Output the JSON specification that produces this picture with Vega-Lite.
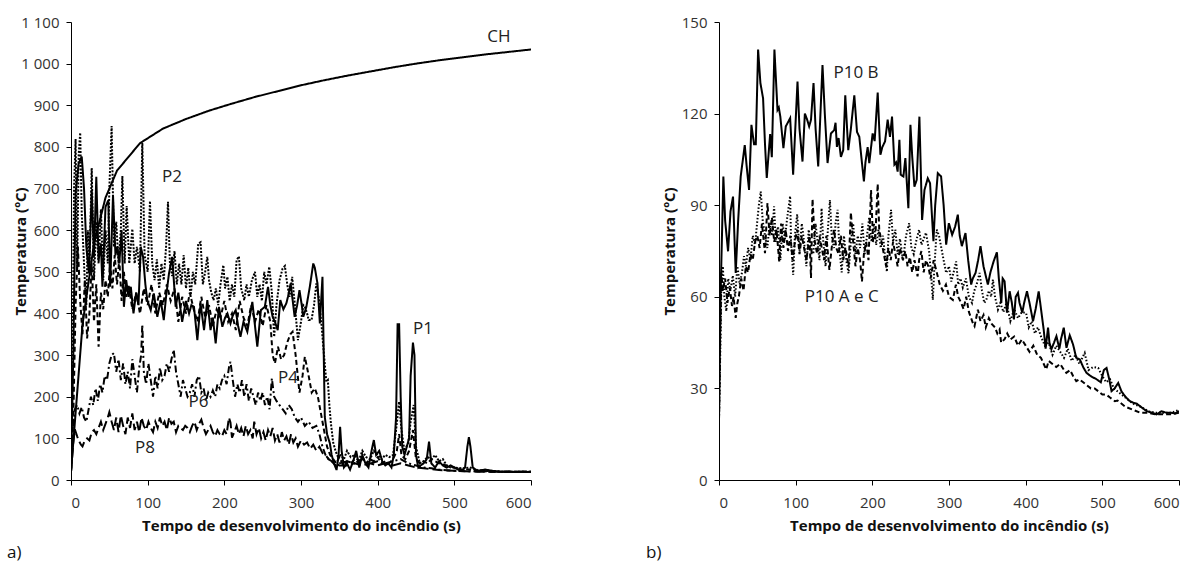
{
"$schema": "https://vega.github.io/schema/vega-lite/v6.json",
"background": "white",
"padding": {"left": 7, "top": 15, "right": 5, "bottom": 5},
"bounds": "flush",
"spacing": 188,
"resolve": {"scale": {"strokeDash": "independent"}},
"config": {
  "view": {"stroke": null},
  "font": "Open Sans",
  "axis": {"grid": false, "domainColor": "#000", "tickColor": "#000", "labelColor": "#333", "titleColor": "#111", "labelFontSize": 15, "titleFontSize": 15, "titleFontWeight": "bold", "tickSize": 5, "labelFont": "Open Sans", "titleFont": "Open Sans"},
  "title": {"font": "Open Sans", "fontSize": 17, "fontWeight": "normal", "color": "#111"}
},
"datasets": {
"la": [
{"t":558,"v":1064,"label":"CH"},{"t":131.7,"v":728,"label":"P2"},{"t":459,"v":363,"label":"P1"},{"t":283,"v":245,"label":"P4"},{"t":166.3,"v":187,"label":"P6"},{"t":96.5,"v":77,"label":"P8"}
],
"lb": [
{"t":178.7,"v":133.2,"label":"P10 B"},{"t":160.1,"v":59.8,"label":"P10 A e C"}
],
"a": [
{"s":"CH","t":0,"v":20},{"s":"CH","t":15,"v":373},{"s":"CH","t":30,"v":568},{"s":"CH","t":45,"v":678},{"s":"CH","t":60,"v":743},{"s":"CH","t":90,"v":809},{"s":"CH","t":120,"v":844},{"s":"CH","t":150,"v":867},{"s":"CH","t":180,"v":887},{"s":"CH","t":210,"v":904},{"s":"CH","t":240,"v":920},{"s":"CH","t":270,"v":934},{"s":"CH","t":300,"v":948},{"s":"CH","t":330,"v":960},{"s":"CH","t":360,"v":971},{"s":"CH","t":390,"v":981},{"s":"CH","t":420,"v":991},{"s":"CH","t":450,"v":1000},{"s":"CH","t":480,"v":1008},{"s":"CH","t":510,"v":1015},{"s":"CH","t":540,"v":1022},{"s":"CH","t":570,"v":1028},{"s":"CH","t":600,"v":1034},

{"s":"P1","t":0,"v":20},{"s":"P1","t":3,"v":300},{"s":"P1","t":6,"v":689},{"s":"P1","t":10,"v":760},{"s":"P1","t":14,"v":777},{"s":"P1","t":17,"v":700},{"s":"P1","t":20,"v":560},{"s":"P1","t":23.5,"v":496},{"s":"P1","t":27,"v":696},{"s":"P1","t":30,"v":536},{"s":"P1","t":33,"v":728},{"s":"P1","t":36,"v":528},{"s":"P1","t":39,"v":568},{"s":"P1","t":41,"v":464},{"s":"P1","t":45,"v":656},{"s":"P1","t":48.7,"v":672},{"s":"P1","t":51,"v":464},{"s":"P1","t":54.8,"v":684},{"s":"P1","t":58,"v":540},{"s":"P1","t":60.4,"v":560},{"s":"P1","t":63,"v":520},{"s":"P1","t":66,"v":600},{"s":"P1","t":69,"v":416},{"s":"P1","t":72,"v":480},{"s":"P1","t":75,"v":440},{"s":"P1","t":78,"v":464},{"s":"P1","t":81.5,"v":400},{"s":"P1","t":85,"v":450},{"s":"P1","t":88,"v":420},{"s":"P1","t":91,"v":560},{"s":"P1","t":94,"v":536},{"s":"P1","t":97,"v":470},{"s":"P1","t":99.5,"v":432},{"s":"P1","t":104,"v":408},{"s":"P1","t":108,"v":448},{"s":"P1","t":112.6,"v":392},{"s":"P1","t":117,"v":432},{"s":"P1","t":121,"v":384},{"s":"P1","t":124,"v":440},{"s":"P1","t":127.8,"v":496},{"s":"P1","t":132,"v":536},{"s":"P1","t":136.5,"v":416},{"s":"P1","t":140,"v":450},{"s":"P1","t":145,"v":380},{"s":"P1","t":150,"v":430},{"s":"P1","t":154,"v":400},{"s":"P1","t":157,"v":420},{"s":"P1","t":160.4,"v":416},{"s":"P1","t":164.8,"v":336},{"s":"P1","t":169,"v":424},{"s":"P1","t":173.5,"v":360},{"s":"P1","t":177.8,"v":432},{"s":"P1","t":182,"v":360},{"s":"P1","t":185,"v":390},{"s":"P1","t":188.7,"v":328},{"s":"P1","t":193,"v":416},{"s":"P1","t":197.4,"v":368},{"s":"P1","t":201,"v":390},{"s":"P1","t":204,"v":400},{"s":"P1","t":208,"v":376},{"s":"P1","t":211,"v":395},{"s":"P1","t":214.8,"v":408},{"s":"P1","t":218,"v":370},{"s":"P1","t":221,"v":344},{"s":"P1","t":225,"v":380},{"s":"P1","t":230,"v":356},{"s":"P1","t":233,"v":390},{"s":"P1","t":236.5,"v":428},{"s":"P1","t":240,"v":370},{"s":"P1","t":243,"v":320},{"s":"P1","t":247.7,"v":408},{"s":"P1","t":252.8,"v":416},{"s":"P1","t":257,"v":464},{"s":"P1","t":260,"v":420},{"s":"P1","t":263,"v":392},{"s":"P1","t":266,"v":380},{"s":"P1","t":269.6,"v":360},{"s":"P1","t":273,"v":432},{"s":"P1","t":277,"v":410},{"s":"P1","t":280.8,"v":424},{"s":"P1","t":283,"v":440},{"s":"P1","t":286.5,"v":472},{"s":"P1","t":291.7,"v":392},{"s":"P1","t":295,"v":420},{"s":"P1","t":298,"v":456},{"s":"P1","t":301,"v":420},{"s":"P1","t":303,"v":392},{"s":"P1","t":307,"v":416},{"s":"P1","t":311.5,"v":464},{"s":"P1","t":316,"v":520},{"s":"P1","t":318,"v":510},{"s":"P1","t":321.5,"v":472},{"s":"P1","t":324.6,"v":376},{"s":"P1","t":328,"v":488},{"s":"P1","t":331,"v":152},{"s":"P1","t":334,"v":110},{"s":"P1","t":337.7,"v":88},{"s":"P1","t":340,"v":60},{"s":"P1","t":343,"v":40},{"s":"P1","t":346.4,"v":24},{"s":"P1","t":349,"v":60},{"s":"P1","t":351,"v":128},{"s":"P1","t":353,"v":70},{"s":"P1","t":356,"v":30},{"s":"P1","t":360,"v":40},{"s":"P1","t":364,"v":25},{"s":"P1","t":368,"v":45},{"s":"P1","t":372,"v":70},{"s":"P1","t":376,"v":30},{"s":"P1","t":380,"v":60},{"s":"P1","t":384,"v":40},{"s":"P1","t":388,"v":30},{"s":"P1","t":392,"v":70},{"s":"P1","t":395,"v":96},{"s":"P1","t":398,"v":60},{"s":"P1","t":402,"v":70},{"s":"P1","t":406,"v":45},{"s":"P1","t":410,"v":35},{"s":"P1","t":414,"v":40},{"s":"P1","t":418,"v":30},{"s":"P1","t":421,"v":60},{"s":"P1","t":424,"v":150},{"s":"P1","t":426,"v":374},{"s":"P1","t":428,"v":374},{"s":"P1","t":430,"v":200},{"s":"P1","t":432,"v":80},{"s":"P1","t":435,"v":60},{"s":"P1","t":438,"v":80},{"s":"P1","t":441,"v":100},{"s":"P1","t":443,"v":250},{"s":"P1","t":446,"v":330},{"s":"P1","t":448,"v":300},{"s":"P1","t":450,"v":60},{"s":"P1","t":453,"v":30},{"s":"P1","t":456,"v":35},{"s":"P1","t":460,"v":40},{"s":"P1","t":464,"v":50},{"s":"P1","t":467,"v":92},{"s":"P1","t":470,"v":40},{"s":"P1","t":475,"v":30},{"s":"P1","t":480,"v":45},{"s":"P1","t":485,"v":35},{"s":"P1","t":490,"v":30},{"s":"P1","t":495,"v":35},{"s":"P1","t":500,"v":30},{"s":"P1","t":505,"v":25},{"s":"P1","t":510,"v":22},{"s":"P1","t":514,"v":30},{"s":"P1","t":517,"v":80},{"s":"P1","t":519,"v":103},{"s":"P1","t":521,"v":80},{"s":"P1","t":524,"v":30},{"s":"P1","t":530,"v":22},{"s":"P1","t":540,"v":25},{"s":"P1","t":550,"v":22},{"s":"P1","t":560,"v":20},{"s":"P1","t":570,"v":20},{"s":"P1","t":580,"v":19},{"s":"P1","t":590,"v":19},{"s":"P1","t":600,"v":19},

{"s":"P2","t":0,"v":20},{"s":"P2","t":2,"v":300},{"s":"P2","t":4,"v":700},{"s":"P2","t":6,"v":819},{"s":"P2","t":8,"v":500},{"s":"P2","t":10,"v":780},{"s":"P2","t":12,"v":834},{"s":"P2","t":14,"v":640},{"s":"P2","t":16,"v":560},{"s":"P2","t":18,"v":480},{"s":"P2","t":20,"v":420},{"s":"P2","t":22,"v":600},{"s":"P2","t":24,"v":500},{"s":"P2","t":27,"v":749},{"s":"P2","t":30,"v":480},{"s":"P2","t":33,"v":620},{"s":"P2","t":36,"v":520},{"s":"P2","t":39,"v":650},{"s":"P2","t":42,"v":480},{"s":"P2","t":45,"v":600},{"s":"P2","t":48,"v":520},{"s":"P2","t":50,"v":700},{"s":"P2","t":53,"v":850},{"s":"P2","t":56,"v":560},{"s":"P2","t":59,"v":620},{"s":"P2","t":62,"v":520},{"s":"P2","t":65,"v":600},{"s":"P2","t":67,"v":730},{"s":"P2","t":70,"v":520},{"s":"P2","t":72.6,"v":658},{"s":"P2","t":76,"v":520},{"s":"P2","t":80,"v":603},{"s":"P2","t":83,"v":520},{"s":"P2","t":86,"v":560},{"s":"P2","t":90,"v":500},{"s":"P2","t":93,"v":810},{"s":"P2","t":96,"v":540},{"s":"P2","t":100,"v":500},{"s":"P2","t":103,"v":670},{"s":"P2","t":106,"v":520},{"s":"P2","t":109,"v":480},{"s":"P2","t":112,"v":530},{"s":"P2","t":115,"v":460},{"s":"P2","t":118,"v":520},{"s":"P2","t":121,"v":480},{"s":"P2","t":124,"v":560},{"s":"P2","t":126.5,"v":668},{"s":"P2","t":129,"v":520},{"s":"P2","t":132,"v":490},{"s":"P2","t":135,"v":550},{"s":"P2","t":138,"v":470},{"s":"P2","t":141,"v":520},{"s":"P2","t":144,"v":470},{"s":"P2","t":147,"v":540},{"s":"P2","t":150,"v":460},{"s":"P2","t":153,"v":510},{"s":"P2","t":156,"v":440},{"s":"P2","t":159,"v":500},{"s":"P2","t":162,"v":470},{"s":"P2","t":166,"v":568},{"s":"P2","t":169,"v":571},{"s":"P2","t":172,"v":470},{"s":"P2","t":175,"v":500},{"s":"P2","t":177.8,"v":536},{"s":"P2","t":180,"v":480},{"s":"P2","t":183,"v":450},{"s":"P2","t":186,"v":432},{"s":"P2","t":189,"v":460},{"s":"P2","t":192,"v":420},{"s":"P2","t":195,"v":470},{"s":"P2","t":198.7,"v":516},{"s":"P2","t":201,"v":460},{"s":"P2","t":204,"v":488},{"s":"P2","t":207,"v":430},{"s":"P2","t":210,"v":470},{"s":"P2","t":213,"v":440},{"s":"P2","t":216,"v":528},{"s":"P2","t":219,"v":537},{"s":"P2","t":222,"v":460},{"s":"P2","t":226,"v":432},{"s":"P2","t":229,"v":470},{"s":"P2","t":232,"v":440},{"s":"P2","t":236,"v":480},{"s":"P2","t":240,"v":500},{"s":"P2","t":243,"v":440},{"s":"P2","t":246,"v":470},{"s":"P2","t":249,"v":430},{"s":"P2","t":252,"v":500},{"s":"P2","t":255,"v":470},{"s":"P2","t":258.6,"v":512},{"s":"P2","t":262,"v":450},{"s":"P2","t":265,"v":344},{"s":"P2","t":268,"v":420},{"s":"P2","t":272,"v":480},{"s":"P2","t":276,"v":508},{"s":"P2","t":279,"v":514},{"s":"P2","t":282,"v":470},{"s":"P2","t":285,"v":440},{"s":"P2","t":288.5,"v":488},{"s":"P2","t":292,"v":420},{"s":"P2","t":296,"v":336},{"s":"P2","t":300,"v":380},{"s":"P2","t":303,"v":420},{"s":"P2","t":305,"v":416},{"s":"P2","t":308,"v":400},{"s":"P2","t":310,"v":384},{"s":"P2","t":313.7,"v":384},{"s":"P2","t":317,"v":420},{"s":"P2","t":320,"v":472},{"s":"P2","t":323,"v":440},{"s":"P2","t":326.6,"v":376},{"s":"P2","t":330,"v":300},{"s":"P2","t":333,"v":236},{"s":"P2","t":335,"v":240},{"s":"P2","t":337,"v":180},{"s":"P2","t":339,"v":136},{"s":"P2","t":342,"v":90},{"s":"P2","t":345,"v":70},{"s":"P2","t":348,"v":56},{"s":"P2","t":352,"v":60},{"s":"P2","t":356,"v":50},{"s":"P2","t":360,"v":70},{"s":"P2","t":365,"v":55},{"s":"P2","t":370,"v":60},{"s":"P2","t":375,"v":45},{"s":"P2","t":380,"v":70},{"s":"P2","t":385,"v":55},{"s":"P2","t":390,"v":50},{"s":"P2","t":395,"v":70},{"s":"P2","t":400,"v":60},{"s":"P2","t":405,"v":50},{"s":"P2","t":410,"v":60},{"s":"P2","t":415,"v":55},{"s":"P2","t":420,"v":60},{"s":"P2","t":424,"v":120},{"s":"P2","t":428,"v":188},{"s":"P2","t":431,"v":120},{"s":"P2","t":435,"v":70},{"s":"P2","t":440,"v":90},{"s":"P2","t":443,"v":140},{"s":"P2","t":447,"v":180},{"s":"P2","t":450,"v":80},{"s":"P2","t":455,"v":40},{"s":"P2","t":460,"v":45},{"s":"P2","t":465,"v":55},{"s":"P2","t":470,"v":50},{"s":"P2","t":475,"v":60},{"s":"P2","t":480,"v":45},{"s":"P2","t":485,"v":50},{"s":"P2","t":490,"v":35},{"s":"P2","t":495,"v":30},{"s":"P2","t":500,"v":30},{"s":"P2","t":510,"v":28},{"s":"P2","t":520,"v":30},{"s":"P2","t":530,"v":24},{"s":"P2","t":540,"v":22},{"s":"P2","t":550,"v":21},{"s":"P2","t":560,"v":20},{"s":"P2","t":580,"v":20},{"s":"P2","t":600,"v":20},

{"s":"P4","t":0,"v":20},{"s":"P4","t":3,"v":150},{"s":"P4","t":6,"v":420},{"s":"P4","t":9,"v":560},{"s":"P4","t":12,"v":430},{"s":"P4","t":15,"v":350},{"s":"P4","t":18,"v":480},{"s":"P4","t":21,"v":340},{"s":"P4","t":24,"v":400},{"s":"P4","t":27,"v":520},{"s":"P4","t":30,"v":380},{"s":"P4","t":33,"v":470},{"s":"P4","t":36,"v":320},{"s":"P4","t":39,"v":450},{"s":"P4","t":42,"v":410},{"s":"P4","t":45,"v":480},{"s":"P4","t":48,"v":440},{"s":"P4","t":51,"v":520},{"s":"P4","t":54,"v":460},{"s":"P4","t":57,"v":540},{"s":"P4","t":60,"v":470},{"s":"P4","t":63,"v":530},{"s":"P4","t":66,"v":430},{"s":"P4","t":69,"v":500},{"s":"P4","t":72,"v":440},{"s":"P4","t":75,"v":470},{"s":"P4","t":80,"v":410},{"s":"P4","t":85,"v":450},{"s":"P4","t":90,"v":400},{"s":"P4","t":95,"v":460},{"s":"P4","t":100,"v":420},{"s":"P4","t":105,"v":470},{"s":"P4","t":110,"v":400},{"s":"P4","t":115,"v":450},{"s":"P4","t":120,"v":420},{"s":"P4","t":125,"v":470},{"s":"P4","t":130,"v":430},{"s":"P4","t":135,"v":460},{"s":"P4","t":140,"v":380},{"s":"P4","t":145,"v":440},{"s":"P4","t":150,"v":400},{"s":"P4","t":155,"v":450},{"s":"P4","t":160,"v":410},{"s":"P4","t":165,"v":380},{"s":"P4","t":170,"v":440},{"s":"P4","t":175,"v":390},{"s":"P4","t":180,"v":420},{"s":"P4","t":185,"v":370},{"s":"P4","t":190,"v":410},{"s":"P4","t":195,"v":390},{"s":"P4","t":200,"v":430},{"s":"P4","t":205,"v":380},{"s":"P4","t":210,"v":400},{"s":"P4","t":215,"v":360},{"s":"P4","t":220,"v":430},{"s":"P4","t":225,"v":390},{"s":"P4","t":230,"v":370},{"s":"P4","t":235,"v":420},{"s":"P4","t":240,"v":380},{"s":"P4","t":245,"v":410},{"s":"P4","t":250,"v":370},{"s":"P4","t":255,"v":420},{"s":"P4","t":260,"v":380},{"s":"P4","t":263,"v":300},{"s":"P4","t":266,"v":280},{"s":"P4","t":270,"v":320},{"s":"P4","t":274,"v":290},{"s":"P4","t":278,"v":300},{"s":"P4","t":282,"v":330},{"s":"P4","t":286,"v":350},{"s":"P4","t":289,"v":356},{"s":"P4","t":293,"v":300},{"s":"P4","t":298,"v":210},{"s":"P4","t":302,"v":250},{"s":"P4","t":305,"v":296},{"s":"P4","t":309,"v":260},{"s":"P4","t":314,"v":210},{"s":"P4","t":318,"v":220},{"s":"P4","t":322,"v":200},{"s":"P4","t":326,"v":160},{"s":"P4","t":330,"v":120},{"s":"P4","t":334,"v":80},{"s":"P4","t":338,"v":60},{"s":"P4","t":342,"v":50},{"s":"P4","t":346,"v":40},{"s":"P4","t":350,"v":55},{"s":"P4","t":355,"v":35},{"s":"P4","t":360,"v":45},{"s":"P4","t":365,"v":40},{"s":"P4","t":370,"v":50},{"s":"P4","t":375,"v":40},{"s":"P4","t":380,"v":55},{"s":"P4","t":385,"v":40},{"s":"P4","t":390,"v":50},{"s":"P4","t":395,"v":45},{"s":"P4","t":400,"v":55},{"s":"P4","t":405,"v":40},{"s":"P4","t":410,"v":45},{"s":"P4","t":415,"v":40},{"s":"P4","t":420,"v":50},{"s":"P4","t":425,"v":70},{"s":"P4","t":428,"v":110},{"s":"P4","t":431,"v":60},{"s":"P4","t":436,"v":50},{"s":"P4","t":441,"v":70},{"s":"P4","t":446,"v":120},{"s":"P4","t":450,"v":50},{"s":"P4","t":455,"v":40},{"s":"P4","t":460,"v":45},{"s":"P4","t":465,"v":40},{"s":"P4","t":470,"v":50},{"s":"P4","t":475,"v":45},{"s":"P4","t":480,"v":40},{"s":"P4","t":490,"v":35},{"s":"P4","t":500,"v":30},{"s":"P4","t":510,"v":25},{"s":"P4","t":520,"v":25},{"s":"P4","t":530,"v":22},{"s":"P4","t":540,"v":21},{"s":"P4","t":560,"v":20},{"s":"P4","t":580,"v":20},{"s":"P4","t":600,"v":20},

{"s":"P6","t":0,"v":20},{"s":"P6","t":3,"v":120},{"s":"P6","t":5,"v":170},{"s":"P6","t":8,"v":180},{"s":"P6","t":11,"v":160},{"s":"P6","t":14,"v":175},{"s":"P6","t":17,"v":150},{"s":"P6","t":20,"v":140},{"s":"P6","t":23,"v":170},{"s":"P6","t":26,"v":200},{"s":"P6","t":29,"v":180},{"s":"P6","t":32,"v":220},{"s":"P6","t":35,"v":190},{"s":"P6","t":38,"v":230},{"s":"P6","t":41,"v":210},{"s":"P6","t":44,"v":250},{"s":"P6","t":47,"v":240},{"s":"P6","t":50,"v":280},{"s":"P6","t":53,"v":300},{"s":"P6","t":56,"v":305},{"s":"P6","t":59,"v":260},{"s":"P6","t":62,"v":290},{"s":"P6","t":65,"v":240},{"s":"P6","t":68,"v":280},{"s":"P6","t":71,"v":230},{"s":"P6","t":74,"v":260},{"s":"P6","t":77,"v":220},{"s":"P6","t":80,"v":290},{"s":"P6","t":83,"v":250},{"s":"P6","t":86,"v":210},{"s":"P6","t":89,"v":270},{"s":"P6","t":91.5,"v":300},{"s":"P6","t":93,"v":374},{"s":"P6","t":95,"v":260},{"s":"P6","t":98,"v":230},{"s":"P6","t":101,"v":280},{"s":"P6","t":104,"v":240},{"s":"P6","t":107,"v":200},{"s":"P6","t":110,"v":250},{"s":"P6","t":113,"v":220},{"s":"P6","t":116,"v":270},{"s":"P6","t":119,"v":240},{"s":"P6","t":122,"v":250},{"s":"P6","t":125,"v":280},{"s":"P6","t":128,"v":260},{"s":"P6","t":131,"v":290},{"s":"P6","t":134,"v":313},{"s":"P6","t":137,"v":260},{"s":"P6","t":140,"v":230},{"s":"P6","t":143,"v":200},{"s":"P6","t":146,"v":240},{"s":"P6","t":149,"v":220},{"s":"P6","t":152,"v":200},{"s":"P6","t":155,"v":210},{"s":"P6","t":158,"v":230},{"s":"P6","t":161,"v":200},{"s":"P6","t":164,"v":240},{"s":"P6","t":167,"v":250},{"s":"P6","t":170,"v":210},{"s":"P6","t":173,"v":220},{"s":"P6","t":176,"v":190},{"s":"P6","t":179,"v":210},{"s":"P6","t":182,"v":200},{"s":"P6","t":185,"v":215},{"s":"P6","t":188,"v":200},{"s":"P6","t":191,"v":230},{"s":"P6","t":194,"v":220},{"s":"P6","t":197,"v":240},{"s":"P6","t":200,"v":250},{"s":"P6","t":203,"v":230},{"s":"P6","t":206,"v":270},{"s":"P6","t":208,"v":284},{"s":"P6","t":211,"v":240},{"s":"P6","t":214,"v":200},{"s":"P6","t":217,"v":230},{"s":"P6","t":220,"v":210},{"s":"P6","t":223,"v":240},{"s":"P6","t":226,"v":200},{"s":"P6","t":229,"v":230},{"s":"P6","t":232,"v":190},{"s":"P6","t":235,"v":220},{"s":"P6","t":238,"v":200},{"s":"P6","t":241,"v":180},{"s":"P6","t":244,"v":210},{"s":"P6","t":247,"v":190},{"s":"P6","t":250,"v":210},{"s":"P6","t":253,"v":180},{"s":"P6","t":256,"v":200},{"s":"P6","t":259,"v":170},{"s":"P6","t":262,"v":244},{"s":"P6","t":265,"v":200},{"s":"P6","t":268,"v":190},{"s":"P6","t":272,"v":180},{"s":"P6","t":276,"v":170},{"s":"P6","t":280,"v":160},{"s":"P6","t":284,"v":180},{"s":"P6","t":288,"v":170},{"s":"P6","t":292,"v":150},{"s":"P6","t":296,"v":140},{"s":"P6","t":300,"v":150},{"s":"P6","t":305,"v":130},{"s":"P6","t":310,"v":140},{"s":"P6","t":315,"v":125},{"s":"P6","t":320,"v":130},{"s":"P6","t":324,"v":110},{"s":"P6","t":328,"v":80},{"s":"P6","t":332,"v":60},{"s":"P6","t":336,"v":50},{"s":"P6","t":340,"v":45},{"s":"P6","t":345,"v":35},{"s":"P6","t":350,"v":40},{"s":"P6","t":360,"v":45},{"s":"P6","t":370,"v":40},{"s":"P6","t":380,"v":50},{"s":"P6","t":390,"v":40},{"s":"P6","t":400,"v":45},{"s":"P6","t":410,"v":40},{"s":"P6","t":420,"v":45},{"s":"P6","t":430,"v":50},{"s":"P6","t":440,"v":40},{"s":"P6","t":450,"v":35},{"s":"P6","t":460,"v":30},{"s":"P6","t":470,"v":28},{"s":"P6","t":480,"v":25},{"s":"P6","t":500,"v":22},{"s":"P6","t":520,"v":21},{"s":"P6","t":550,"v":20},{"s":"P6","t":600,"v":20},

{"s":"P8","t":0,"v":20},{"s":"P8","t":3,"v":90},{"s":"P8","t":5,"v":122},{"s":"P8","t":8,"v":105},{"s":"P8","t":10,"v":95},{"s":"P8","t":13,"v":85},{"s":"P8","t":15,"v":81},{"s":"P8","t":18,"v":95},{"s":"P8","t":21,"v":100},{"s":"P8","t":24,"v":95},{"s":"P8","t":27,"v":115},{"s":"P8","t":30,"v":120},{"s":"P8","t":33,"v":110},{"s":"P8","t":36,"v":125},{"s":"P8","t":39,"v":140},{"s":"P8","t":42,"v":120},{"s":"P8","t":45,"v":135},{"s":"P8","t":48,"v":150},{"s":"P8","t":50,"v":163},{"s":"P8","t":53,"v":140},{"s":"P8","t":56,"v":120},{"s":"P8","t":59,"v":150},{"s":"P8","t":62,"v":115},{"s":"P8","t":65,"v":155},{"s":"P8","t":68,"v":130},{"s":"P8","t":71,"v":110},{"s":"P8","t":74,"v":150},{"s":"P8","t":77,"v":125},{"s":"P8","t":80,"v":160},{"s":"P8","t":83,"v":120},{"s":"P8","t":86,"v":140},{"s":"P8","t":89,"v":115},{"s":"P8","t":92,"v":150},{"s":"P8","t":95,"v":130},{"s":"P8","t":98,"v":120},{"s":"P8","t":101,"v":140},{"s":"P8","t":104,"v":125},{"s":"P8","t":107,"v":115},{"s":"P8","t":110,"v":140},{"s":"P8","t":113,"v":125},{"s":"P8","t":116,"v":150},{"s":"P8","t":119,"v":130},{"s":"P8","t":122,"v":140},{"s":"P8","t":125,"v":120},{"s":"P8","t":128,"v":150},{"s":"P8","t":131,"v":135},{"s":"P8","t":134,"v":140},{"s":"P8","t":137,"v":115},{"s":"P8","t":140,"v":130},{"s":"P8","t":143,"v":125},{"s":"P8","t":146,"v":120},{"s":"P8","t":149,"v":130},{"s":"P8","t":152,"v":125},{"s":"P8","t":155,"v":115},{"s":"P8","t":158,"v":130},{"s":"P8","t":161,"v":140},{"s":"P8","t":164,"v":120},{"s":"P8","t":167,"v":135},{"s":"P8","t":170,"v":145},{"s":"P8","t":173,"v":125},{"s":"P8","t":176,"v":110},{"s":"P8","t":179,"v":120},{"s":"P8","t":182,"v":130},{"s":"P8","t":185,"v":115},{"s":"P8","t":188,"v":105},{"s":"P8","t":191,"v":120},{"s":"P8","t":194,"v":110},{"s":"P8","t":197,"v":105},{"s":"P8","t":200,"v":120},{"s":"P8","t":203,"v":110},{"s":"P8","t":206,"v":150},{"s":"P8","t":208,"v":138},{"s":"P8","t":210,"v":102},{"s":"P8","t":213,"v":115},{"s":"P8","t":216,"v":130},{"s":"P8","t":219,"v":110},{"s":"P8","t":222,"v":125},{"s":"P8","t":225,"v":105},{"s":"P8","t":228,"v":130},{"s":"P8","t":231,"v":110},{"s":"P8","t":234,"v":120},{"s":"P8","t":237,"v":100},{"s":"P8","t":239,"v":140},{"s":"P8","t":242,"v":110},{"s":"P8","t":245,"v":125},{"s":"P8","t":248,"v":100},{"s":"P8","t":251,"v":115},{"s":"P8","t":254,"v":95},{"s":"P8","t":257,"v":120},{"s":"P8","t":260,"v":105},{"s":"P8","t":263,"v":125},{"s":"P8","t":266,"v":95},{"s":"P8","t":269,"v":110},{"s":"P8","t":272,"v":90},{"s":"P8","t":275,"v":115},{"s":"P8","t":278,"v":95},{"s":"P8","t":281,"v":105},{"s":"P8","t":284,"v":85},{"s":"P8","t":287,"v":110},{"s":"P8","t":290,"v":90},{"s":"P8","t":293,"v":100},{"s":"P8","t":296,"v":80},{"s":"P8","t":300,"v":95},{"s":"P8","t":304,"v":85},{"s":"P8","t":308,"v":90},{"s":"P8","t":312,"v":75},{"s":"P8","t":316,"v":85},{"s":"P8","t":320,"v":70},{"s":"P8","t":324,"v":80},{"s":"P8","t":328,"v":65},{"s":"P8","t":332,"v":60},{"s":"P8","t":336,"v":50},{"s":"P8","t":340,"v":45},{"s":"P8","t":345,"v":40},{"s":"P8","t":350,"v":35},{"s":"P8","t":360,"v":35},{"s":"P8","t":370,"v":40},{"s":"P8","t":380,"v":35},{"s":"P8","t":390,"v":40},{"s":"P8","t":400,"v":35},{"s":"P8","t":410,"v":40},{"s":"P8","t":420,"v":35},{"s":"P8","t":430,"v":40},{"s":"P8","t":440,"v":35},{"s":"P8","t":450,"v":30},{"s":"P8","t":460,"v":28},{"s":"P8","t":480,"v":24},{"s":"P8","t":500,"v":22},{"s":"P8","t":530,"v":20},{"s":"P8","t":560,"v":20},{"s":"P8","t":600,"v":20}
],
"b": [
{"s":"B","t":0,"v":20},{"s":"B","t":2,"v":60},{"s":"B","t":5.7,"v":99.4},{"s":"B","t":8,"v":85},{"s":"B","t":11.8,"v":74.9},{"s":"B","t":15,"v":88},{"s":"B","t":18.3,"v":92.8},{"s":"B","t":21.8,"v":67.8},{"s":"B","t":25,"v":85},{"s":"B","t":28.3,"v":99.4},{"s":"B","t":33.6,"v":109.7},{"s":"B","t":36,"v":103},{"s":"B","t":39.2,"v":95},{"s":"B","t":42.3,"v":116.3},{"s":"B","t":45.7,"v":110},{"s":"B","t":48,"v":110},{"s":"B","t":51,"v":141},{"s":"B","t":54,"v":130},{"s":"B","t":57.5,"v":125},{"s":"B","t":60,"v":110},{"s":"B","t":62.3,"v":98.9},{"s":"B","t":66.7,"v":113.3},{"s":"B","t":68.9,"v":105.7},{"s":"B","t":72.3,"v":141},{"s":"B","t":76.3,"v":121.2},{"s":"B","t":78,"v":122},{"s":"B","t":80,"v":119},{"s":"B","t":84,"v":108.7},{"s":"B","t":87.1,"v":115.8},{"s":"B","t":92.8,"v":118.5},{"s":"B","t":96.7,"v":100},{"s":"B","t":102.4,"v":130.5},{"s":"B","t":105,"v":115},{"s":"B","t":108.9,"v":104.3},{"s":"B","t":112,"v":120},{"s":"B","t":115,"v":118},{"s":"B","t":117.6,"v":115.8},{"s":"B","t":120,"v":118},{"s":"B","t":123.3,"v":130},{"s":"B","t":126,"v":115},{"s":"B","t":129.4,"v":102.7},{"s":"B","t":135,"v":135.9},{"s":"B","t":138,"v":120},{"s":"B","t":141.6,"v":103.8},{"s":"B","t":146,"v":113.5},{"s":"B","t":150.3,"v":114.6},{"s":"B","t":152,"v":117},{"s":"B","t":153.8,"v":109.1},{"s":"B","t":156,"v":112},{"s":"B","t":159,"v":105.8},{"s":"B","t":162,"v":108},{"s":"B","t":164.7,"v":126},{"s":"B","t":168.6,"v":108},{"s":"B","t":172,"v":115},{"s":"B","t":176.5,"v":126},{"s":"B","t":180,"v":114},{"s":"B","t":183,"v":112.4},{"s":"B","t":186,"v":105},{"s":"B","t":189,"v":97.8},{"s":"B","t":191,"v":104},{"s":"B","t":193.9,"v":109},{"s":"B","t":196,"v":103.8},{"s":"B","t":200.4,"v":113.5},{"s":"B","t":203,"v":111},{"s":"B","t":207,"v":126.9},{"s":"B","t":210.5,"v":106.5},{"s":"B","t":213,"v":109},{"s":"B","t":216.6,"v":110.9},{"s":"B","t":220,"v":118},{"s":"B","t":223,"v":112.4},{"s":"B","t":225.7,"v":119},{"s":"B","t":228.8,"v":103.3},{"s":"B","t":231,"v":104},{"s":"B","t":233,"v":101},{"s":"B","t":235.3,"v":111.4},{"s":"B","t":237,"v":100},{"s":"B","t":240.5,"v":99.4},{"s":"B","t":243.1,"v":105.4},{"s":"B","t":247,"v":89},{"s":"B","t":249.7,"v":116.3},{"s":"B","t":252,"v":106},{"s":"B","t":254.9,"v":96.1},{"s":"B","t":257.9,"v":98.3},{"s":"B","t":261.4,"v":119},{"s":"B","t":264.9,"v":85.2},{"s":"B","t":268,"v":95},{"s":"B","t":272.3,"v":98.8},{"s":"B","t":275.3,"v":97.2},{"s":"B","t":279.7,"v":78.2},{"s":"B","t":282,"v":90},{"s":"B","t":285.4,"v":100.5},{"s":"B","t":289.7,"v":99.4},{"s":"B","t":293,"v":90},{"s":"B","t":296.3,"v":77.1},{"s":"B","t":299.8,"v":84.1},{"s":"B","t":304.1,"v":80.3},{"s":"B","t":308,"v":83},{"s":"B","t":311.5,"v":86.9},{"s":"B","t":314,"v":80},{"s":"B","t":316.8,"v":76.6},{"s":"B","t":321.5,"v":80.9},{"s":"B","t":325,"v":72},{"s":"B","t":328.9,"v":64},{"s":"B","t":331,"v":66},{"s":"B","t":334.6,"v":67.8},{"s":"B","t":338,"v":72},{"s":"B","t":341.1,"v":76.6},{"s":"B","t":345,"v":70},{"s":"B","t":350.7,"v":64},{"s":"B","t":354,"v":68},{"s":"B","t":358.2,"v":71.6},{"s":"B","t":362.5,"v":74.6},{"s":"B","t":365,"v":66},{"s":"B","t":368.2,"v":58},{"s":"B","t":370,"v":66},{"s":"B","t":372.5,"v":65.1},{"s":"B","t":375.6,"v":54.8},{"s":"B","t":379.1,"v":61.8},{"s":"B","t":382,"v":58},{"s":"B","t":384.7,"v":52.6},{"s":"B","t":387,"v":60},{"s":"B","t":390,"v":61.3},{"s":"B","t":392,"v":58},{"s":"B","t":395.6,"v":54.8},{"s":"B","t":398,"v":58},{"s":"B","t":401.7,"v":61.8},{"s":"B","t":405,"v":58},{"s":"B","t":409.6,"v":52},{"s":"B","t":413,"v":56},{"s":"B","t":417,"v":61.8},{"s":"B","t":420,"v":56},{"s":"B","t":423.5,"v":49.3},{"s":"B","t":426,"v":43},{"s":"B","t":429.2,"v":49.9},{"s":"B","t":431,"v":45},{"s":"B","t":433.5,"v":42.8},{"s":"B","t":437,"v":45},{"s":"B","t":440.1,"v":47.1},{"s":"B","t":444,"v":43},{"s":"B","t":446,"v":46},{"s":"B","t":449.7,"v":49.9},{"s":"B","t":453.2,"v":43.3},{"s":"B","t":457.5,"v":47.4},{"s":"B","t":461.8,"v":44.4},{"s":"B","t":466,"v":40},{"s":"B","t":470.6,"v":39.5},{"s":"B","t":475,"v":37},{"s":"B","t":479.3,"v":35.1},{"s":"B","t":485,"v":34},{"s":"B","t":492.4,"v":33},{"s":"B","t":498,"v":32},{"s":"B","t":502,"v":36},{"s":"B","t":505.5,"v":36.7},{"s":"B","t":509,"v":33},{"s":"B","t":512,"v":29.1},{"s":"B","t":516,"v":30},{"s":"B","t":520.7,"v":31.8},{"s":"B","t":525,"v":29},{"s":"B","t":529.4,"v":27.5},{"s":"B","t":535,"v":26},{"s":"B","t":540.3,"v":25.3},{"s":"B","t":545,"v":25},{"s":"B","t":550,"v":24},{"s":"B","t":557.6,"v":22.6},{"s":"B","t":565,"v":22},{"s":"B","t":570.7,"v":21.5},{"s":"B","t":577,"v":22.5},{"s":"B","t":583.8,"v":22},{"s":"B","t":590,"v":22},{"s":"B","t":595,"v":21.8},{"s":"B","t":600,"v":22.6},

{"s":"A","t":0,"v":20},{"s":"A","t":1.5,"v":40},{"s":"A","t":3,"v":62},{"s":"A","t":5,"v":70},{"s":"A","t":7,"v":60},{"s":"A","t":9.6,"v":55.3},{"s":"A","t":12,"v":66},{"s":"A","t":15,"v":62},{"s":"A","t":18,"v":67},{"s":"A","t":21,"v":60},{"s":"A","t":24,"v":70},{"s":"A","t":27,"v":64},{"s":"A","t":30,"v":68},{"s":"A","t":32.6,"v":73.3},{"s":"A","t":35,"v":70},{"s":"A","t":38,"v":76},{"s":"A","t":41,"v":72},{"s":"A","t":44,"v":80},{"s":"A","t":47,"v":77},{"s":"A","t":50,"v":85},{"s":"A","t":52,"v":90},{"s":"A","t":54.5,"v":94.5},{"s":"A","t":57,"v":85},{"s":"A","t":60,"v":80},{"s":"A","t":63,"v":76},{"s":"A","t":66,"v":84},{"s":"A","t":69,"v":80},{"s":"A","t":71.9,"v":89.6},{"s":"A","t":74,"v":78},{"s":"A","t":77,"v":83},{"s":"A","t":80,"v":72},{"s":"A","t":83,"v":84},{"s":"A","t":86,"v":79},{"s":"A","t":89,"v":86},{"s":"A","t":92.8,"v":93},{"s":"A","t":94,"v":78},{"s":"A","t":96.8,"v":67.2},{"s":"A","t":99,"v":80},{"s":"A","t":102,"v":87},{"s":"A","t":105,"v":75},{"s":"A","t":108,"v":84},{"s":"A","t":111,"v":78},{"s":"A","t":114,"v":70},{"s":"A","t":117,"v":82},{"s":"A","t":120,"v":76},{"s":"A","t":123,"v":74},{"s":"A","t":126,"v":84},{"s":"A","t":129,"v":77},{"s":"A","t":131,"v":72},{"s":"A","t":133.8,"v":89},{"s":"A","t":136,"v":78},{"s":"A","t":139,"v":70},{"s":"A","t":142,"v":82},{"s":"A","t":144.7,"v":91.7},{"s":"A","t":147,"v":80},{"s":"A","t":150,"v":76},{"s":"A","t":152,"v":84},{"s":"A","t":154.7,"v":88.5},{"s":"A","t":157,"v":76},{"s":"A","t":160,"v":68},{"s":"A","t":163,"v":80},{"s":"A","t":166,"v":72},{"s":"A","t":169,"v":67.7},{"s":"A","t":172,"v":78},{"s":"A","t":175,"v":84},{"s":"A","t":178,"v":74},{"s":"A","t":181,"v":80},{"s":"A","t":184,"v":76},{"s":"A","t":187,"v":84},{"s":"A","t":190,"v":74},{"s":"A","t":193,"v":80},{"s":"A","t":196,"v":86},{"s":"A","t":199,"v":78},{"s":"A","t":202,"v":84},{"s":"A","t":205,"v":77},{"s":"A","t":208,"v":82},{"s":"A","t":211,"v":76},{"s":"A","t":214,"v":80},{"s":"A","t":217,"v":72},{"s":"A","t":219,"v":68.2},{"s":"A","t":221,"v":80},{"s":"A","t":224.4,"v":88.5},{"s":"A","t":227,"v":78},{"s":"A","t":230,"v":82},{"s":"A","t":233,"v":74},{"s":"A","t":236,"v":79},{"s":"A","t":240,"v":72},{"s":"A","t":244,"v":80},{"s":"A","t":248,"v":84.1},{"s":"A","t":251,"v":76},{"s":"A","t":254,"v":74},{"s":"A","t":257,"v":78},{"s":"A","t":261,"v":82},{"s":"A","t":264,"v":77},{"s":"A","t":267,"v":79},{"s":"A","t":270,"v":81},{"s":"A","t":274,"v":75},{"s":"A","t":277,"v":66},{"s":"A","t":278.9,"v":59},{"s":"A","t":281,"v":70},{"s":"A","t":284,"v":82},{"s":"A","t":287,"v":80},{"s":"A","t":290,"v":76},{"s":"A","t":293,"v":72},{"s":"A","t":296.3,"v":67.8},{"s":"A","t":300,"v":70},{"s":"A","t":303,"v":65},{"s":"A","t":306,"v":68},{"s":"A","t":309.3,"v":71.6},{"s":"A","t":312,"v":64},{"s":"A","t":315,"v":66},{"s":"A","t":318,"v":63},{"s":"A","t":322,"v":66},{"s":"A","t":326,"v":60},{"s":"A","t":330,"v":58},{"s":"A","t":333,"v":62},{"s":"A","t":336,"v":64},{"s":"A","t":339.9,"v":67.8},{"s":"A","t":343,"v":62},{"s":"A","t":346,"v":58},{"s":"A","t":348.6,"v":59},{"s":"A","t":352,"v":62},{"s":"A","t":355,"v":60},{"s":"A","t":357.3,"v":65.6},{"s":"A","t":360,"v":60},{"s":"A","t":363.8,"v":55.8},{"s":"A","t":367,"v":58},{"s":"A","t":371,"v":55},{"s":"A","t":375,"v":58},{"s":"A","t":380,"v":52},{"s":"A","t":385,"v":56},{"s":"A","t":390,"v":53},{"s":"A","t":395,"v":55},{"s":"A","t":400.6,"v":54.7},{"s":"A","t":404,"v":50},{"s":"A","t":408,"v":52},{"s":"A","t":412,"v":48},{"s":"A","t":416,"v":50},{"s":"A","t":420,"v":47},{"s":"A","t":425,"v":44},{"s":"A","t":430,"v":45},{"s":"A","t":435,"v":41},{"s":"A","t":440,"v":44},{"s":"A","t":445,"v":42},{"s":"A","t":450,"v":40},{"s":"A","t":455,"v":43},{"s":"A","t":460,"v":39},{"s":"A","t":465,"v":41},{"s":"A","t":470,"v":38},{"s":"A","t":477,"v":41.6},{"s":"A","t":482,"v":36},{"s":"A","t":488,"v":37},{"s":"A","t":494.6,"v":36.7},{"s":"A","t":500,"v":34},{"s":"A","t":505,"v":32},{"s":"A","t":510,"v":33},{"s":"A","t":515,"v":30},{"s":"A","t":520,"v":29},{"s":"A","t":525,"v":28},{"s":"A","t":530,"v":27},{"s":"A","t":540,"v":25},{"s":"A","t":550,"v":24},{"s":"A","t":560,"v":22.5},{"s":"A","t":570,"v":22},{"s":"A","t":580,"v":22},{"s":"A","t":590,"v":22},{"s":"A","t":600,"v":23},

{"s":"C","t":0,"v":20},{"s":"C","t":1.5,"v":45},{"s":"C","t":3,"v":68},{"s":"C","t":5,"v":62},{"s":"C","t":8,"v":66},{"s":"C","t":11,"v":58},{"s":"C","t":14,"v":63},{"s":"C","t":17,"v":57},{"s":"C","t":19,"v":60},{"s":"C","t":21.8,"v":53.1},{"s":"C","t":24,"v":58},{"s":"C","t":26,"v":60.2},{"s":"C","t":29,"v":66},{"s":"C","t":32,"v":62},{"s":"C","t":35,"v":70},{"s":"C","t":38,"v":68},{"s":"C","t":41,"v":74},{"s":"C","t":44,"v":72},{"s":"C","t":47,"v":78},{"s":"C","t":50,"v":80},{"s":"C","t":53,"v":76},{"s":"C","t":56,"v":84},{"s":"C","t":60,"v":74.3},{"s":"C","t":63.2,"v":90.7},{"s":"C","t":66,"v":80},{"s":"C","t":69,"v":86},{"s":"C","t":72,"v":78},{"s":"C","t":75,"v":82},{"s":"C","t":78.5,"v":71.6},{"s":"C","t":81,"v":84},{"s":"C","t":84,"v":76},{"s":"C","t":87,"v":82},{"s":"C","t":90,"v":75},{"s":"C","t":93,"v":80},{"s":"C","t":96,"v":72},{"s":"C","t":99,"v":78},{"s":"C","t":102,"v":82},{"s":"C","t":105,"v":74},{"s":"C","t":108,"v":80},{"s":"C","t":111,"v":76},{"s":"C","t":114,"v":72},{"s":"C","t":118,"v":80},{"s":"C","t":120,"v":66.2},{"s":"C","t":122,"v":92},{"s":"C","t":125,"v":78},{"s":"C","t":128,"v":74},{"s":"C","t":131,"v":80},{"s":"C","t":134,"v":76},{"s":"C","t":137,"v":72},{"s":"C","t":140,"v":80},{"s":"C","t":144,"v":68.8},{"s":"C","t":147,"v":76},{"s":"C","t":150,"v":82},{"s":"C","t":153,"v":76},{"s":"C","t":156,"v":74},{"s":"C","t":159,"v":80},{"s":"C","t":162,"v":72},{"s":"C","t":165,"v":76},{"s":"C","t":169,"v":70},{"s":"C","t":172,"v":87.6},{"s":"C","t":175,"v":78},{"s":"C","t":178,"v":70},{"s":"C","t":181,"v":76},{"s":"C","t":184,"v":72},{"s":"C","t":186.5,"v":65},{"s":"C","t":189,"v":74},{"s":"C","t":192,"v":78},{"s":"C","t":195,"v":72},{"s":"C","t":198.3,"v":95},{"s":"C","t":201,"v":78},{"s":"C","t":204,"v":80},{"s":"C","t":207,"v":97},{"s":"C","t":209,"v":82},{"s":"C","t":212,"v":78},{"s":"C","t":215,"v":74},{"s":"C","t":218,"v":70},{"s":"C","t":221,"v":76},{"s":"C","t":224,"v":72},{"s":"C","t":227,"v":78},{"s":"C","t":230,"v":74},{"s":"C","t":233,"v":70},{"s":"C","t":236,"v":76},{"s":"C","t":240,"v":72},{"s":"C","t":243,"v":75},{"s":"C","t":246,"v":70},{"s":"C","t":249,"v":73},{"s":"C","t":252,"v":68},{"s":"C","t":255,"v":72},{"s":"C","t":259,"v":66.7},{"s":"C","t":261,"v":72},{"s":"C","t":264,"v":75},{"s":"C","t":267,"v":68},{"s":"C","t":270,"v":72},{"s":"C","t":273,"v":70},{"s":"C","t":276,"v":66},{"s":"C","t":280,"v":72},{"s":"C","t":284,"v":68},{"s":"C","t":288,"v":64},{"s":"C","t":292,"v":62},{"s":"C","t":296,"v":64},{"s":"C","t":300,"v":60},{"s":"C","t":305,"v":59},{"s":"C","t":309,"v":64},{"s":"C","t":312,"v":60},{"s":"C","t":315.9,"v":58},{"s":"C","t":319,"v":56},{"s":"C","t":322.4,"v":60},{"s":"C","t":326,"v":55},{"s":"C","t":331,"v":51.5},{"s":"C","t":333.3,"v":50.4},{"s":"C","t":337.7,"v":55.8},{"s":"C","t":341,"v":52},{"s":"C","t":345,"v":54},{"s":"C","t":348,"v":50},{"s":"C","t":352,"v":53},{"s":"C","t":356,"v":51},{"s":"C","t":360,"v":50},{"s":"C","t":363,"v":48},{"s":"C","t":366,"v":49.3},{"s":"C","t":368,"v":45},{"s":"C","t":372.5,"v":46.1},{"s":"C","t":376,"v":48},{"s":"C","t":380,"v":46},{"s":"C","t":385,"v":47},{"s":"C","t":390,"v":44},{"s":"C","t":395,"v":46},{"s":"C","t":400,"v":44},{"s":"C","t":405,"v":42},{"s":"C","t":410,"v":44},{"s":"C","t":415,"v":41},{"s":"C","t":420,"v":40},{"s":"C","t":426.8,"v":36.2},{"s":"C","t":430,"v":39},{"s":"C","t":435,"v":38},{"s":"C","t":440,"v":37},{"s":"C","t":445,"v":38},{"s":"C","t":450,"v":36},{"s":"C","t":453,"v":35.1},{"s":"C","t":458,"v":36},{"s":"C","t":462,"v":34},{"s":"C","t":466,"v":32.4},{"s":"C","t":470,"v":33},{"s":"C","t":475,"v":32},{"s":"C","t":480,"v":31},{"s":"C","t":485,"v":30},{"s":"C","t":490,"v":30},{"s":"C","t":495,"v":29},{"s":"C","t":500,"v":28},{"s":"C","t":505,"v":28},{"s":"C","t":510,"v":27},{"s":"C","t":516.4,"v":25.8},{"s":"C","t":520,"v":26},{"s":"C","t":530,"v":24},{"s":"C","t":540,"v":23},{"s":"C","t":550,"v":22},{"s":"C","t":560,"v":22},{"s":"C","t":570,"v":21.5},{"s":"C","t":580,"v":21.5},{"s":"C","t":590,"v":21.5},{"s":"C","t":600,"v":22}
]
},
"hconcat": [
{
  "width": 460, "height": 458,
  "title": {"text": "a)", "orient": "bottom", "anchor": "start", "frame": "bounds", "offset": 12, "dx": -6},
  "layer": [
    {
      "data": {"name": "a"},
      "mark": {"type": "line", "color": "#000", "strokeWidth": 2, "strokeCap": "butt", "clip": true},
      "encoding": {
        "x": {"field": "t", "type": "quantitative", "scale": {"domain": [0, 600], "nice": false}, "axis": {"values": [0,100,200,300,400,500,600], "title": "Tempo de desenvolvimento do incêndio (s)", "labelPadding": 10, "titleY": 45, "titleBaseline": "middle"}},
        "y": {"field": "v", "type": "quantitative", "scale": {"domain": [0, 1100], "nice": false}, "axis": {"values": [0,100,200,300,400,500,600,700,800,900,1000,1100], "title": "Temperatura (ºC)", "labelExpr": "replace(format(datum.value, ','), ',', ' ')", "labelPadding": 7, "titleX": -51, "titleBaseline": "middle"}},
        "strokeDash": {"field": "s", "type": "nominal", "scale": {"domain": ["CH","P1","P2","P4","P6","P8"], "range": [[1,0],[1,0],[2,1.5],[5,3],[7,3,2,3],[10,4]]}, "legend": null},
        "order": {"field": "t", "type": "quantitative"}
      }
    },
    {
      "data": {"name": "la"},
      "mark": {"type": "text", "fontSize": 17, "color": "#222", "align": "center", "baseline": "middle"},
      "encoding": {
        "x": {"field": "t", "type": "quantitative"},
        "y": {"field": "v", "type": "quantitative"},
        "text": {"field": "label"}
      }
    }
  ]
},
{
  "width": 460, "height": 458,
  "title": {"text": "b)", "orient": "bottom", "anchor": "start", "frame": "bounds", "offset": 12, "dx": -16},
  "layer": [
    {
      "data": {"name": "b"},
      "mark": {"type": "line", "color": "#000", "strokeWidth": 2, "strokeCap": "butt", "clip": true},
      "encoding": {
        "x": {"field": "t", "type": "quantitative", "scale": {"domain": [0, 600], "nice": false}, "axis": {"values": [0,100,200,300,400,500,600], "title": "Tempo de desenvolvimento do incêndio (s)", "labelPadding": 10, "titleY": 45, "titleBaseline": "middle"}},
        "y": {"field": "v", "type": "quantitative", "scale": {"domain": [0, 150], "nice": false}, "axis": {"values": [0,30,60,90,120,150], "title": "Temperatura (ºC)", "labelPadding": 7, "titleX": -50, "titleBaseline": "middle"}},
        "strokeDash": {"field": "s", "type": "nominal", "scale": {"domain": ["A","B","C"], "range": [[1.5,2],[1,0],[5,3]]}, "legend": null},
        "order": {"field": "t", "type": "quantitative"}
      }
    },
    {
      "data": {"name": "lb"},
      "mark": {"type": "text", "fontSize": 17, "color": "#222", "align": "center", "baseline": "middle"},
      "encoding": {
        "x": {"field": "t", "type": "quantitative"},
        "y": {"field": "v", "type": "quantitative"},
        "text": {"field": "label"}
      }
    }
  ]
}
]
}
